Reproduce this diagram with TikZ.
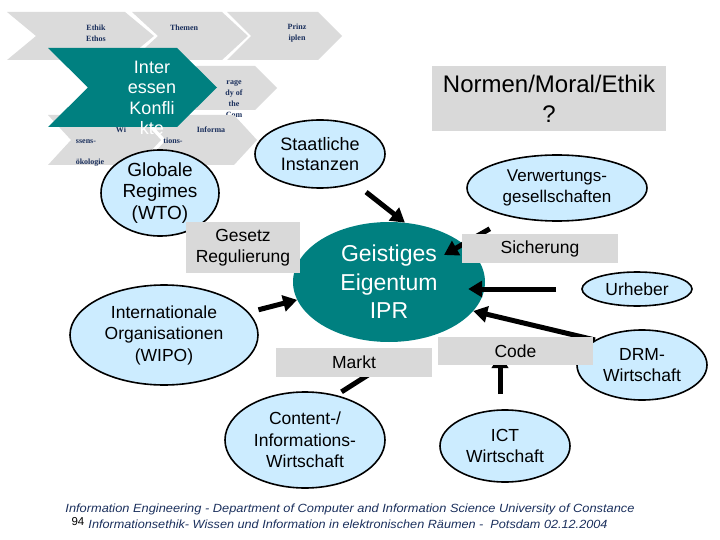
\documentclass[tikz,border=0pt]{standalone}
\usepackage{fontspec}
\setmainfont{Liberation Sans}
\newfontfamily\chevfont{Liberation Serif}
\usetikzlibrary{arrows.meta,positioning,shapes.geometric,calc}
\definecolor{slideTeal}{HTML}{008080}
\definecolor{slideGray}{HTML}{D9D9D9}
\definecolor{chevGray}{HTML}{DBDBDB}
\definecolor{bubbleBlue}{HTML}{CCECFF}
\definecolor{inkNavy}{HTML}{1A2F5C}
\pgfdeclarelayer{labels}
\pgfsetlayers{main,labels}
\tikzset{
  chevLabel/.style={
    font=\chevfont\bfseries\fontsize{8}{11}\selectfont,
    text=inkNavy,
    align=center,
    inner sep=0pt
  },
  slideBubble/.style={
    ellipse,
    draw=black,
    line width=1.6pt,
    fill=bubbleBlue,
    align=center,
    inner sep=0pt,
    font=\fontsize{17.5}{21.5}\selectfont
  },
  slideBox/.style={
    fill=slideGray,
    align=center,
    inner sep=0pt,
    font=\fontsize{17.5}{21.5}\selectfont
  },
  slideArrow/.style={-{Triangle[length=14pt,width=16pt]}, line width=5pt, draw=black},
  slideBar/.style={line width=5pt, draw=black},
  footLine/.style={
    font=\itshape\fontsize{11}{13}\selectfont,
    text=inkNavy,
    inner sep=0pt
  }
}

\begin{document}
\begin{tikzpicture}[x=1pt, y=-1pt]
  \useasboundingbox (0,0) rectangle (720,540);

  % chevron band, top row and the one behind the teal
  \foreach \xl/\yt/\w/\h/\d in {7/12/118/48/29,132/12/90/48/26,227/12/91/48/24,140/66/115/44/22}
    \fill[fill=chevGray] (\xl,\yt) -- ++(\w,0) -- ++(\d,\h/2) -- ++(-\d,\h/2)
      -- ++(-\w,0) -- ++(\d,-\h/2) -- cycle;
  \node[chevLabel] (ethik) at (96,33) {Ethik\\Ethos};
  \node[chevLabel] (themen) at (184,28) {Themen};
  \node[chevLabel] (prinz) at (297,33) {Prinz\\iplen};
  \node[chevLabel] (tragedy) at (234,99) {rage\\dy of\\the\\Com};

  % lower row
  \foreach \xl/\yt/\w/\h/\d in {48/115/90/50/23,143/115/91/50/23}
    \fill[fill=chevGray] (\xl,\yt) -- ++(\w,0) -- ++(\d,\h/2) -- ++(-\d,\h/2)
      -- ++(-\w,0) -- ++(\d,-\h/2) -- cycle;
  \node[chevLabel] (wi) at (121,130) {Wi};
  \node[chevLabel] (ssens) at (86,142) {ssens-};
  \node[chevLabel] (oeko) at (90,163) {ökologie};
  \node[chevLabel] (informa) at (211,130) {Informa};
  \node[chevLabel] (tions) at (173,141) {tions-};

  % teal chevron
  \fill[slideTeal] (48,48) -- ++(129,0) -- ++(40,39.5) -- ++(-40,39.5)
    -- ++(-129,0) -- ++(40,-39.5) -- cycle;
  \node[text=white, align=center, inner sep=0pt, font=\fontsize{18}{20.5}\selectfont]
    (konflikt) at (152,98) {Inter\\essen\\Konfli\\kte};

  % bubbles
  \node[slideBubble, minimum width=118pt, minimum height=86pt, font=\fontsize{19}{21.5}\selectfont]
    (globale) at (160,193) {Globale\\Regimes\\(WTO)};
  \node[slideBubble, minimum width=130pt, minimum height=68pt, font=\fontsize{18}{20}\selectfont]
    (staat) at (320,154) {Staatliche\\Instanzen};
  \node[slideBubble, minimum width=180pt, minimum height=66pt, font=\fontsize{17}{20.5}\selectfont]
    (verw) at (557,188) {Verwertungs-\\gesellschaften};
  \node[slideBubble, minimum width=188pt, minimum height=100pt]
    (intl) at (164,335) {Internationale\\Organisationen\\(WIPO)};
  \node[slideBubble, minimum width=160pt, minimum height=96pt]
    (content) at (305,440) {Content-/\\Informations-\\Wirtschaft};
  \node[slideBubble, minimum width=110pt, minimum height=34pt]
    (urheber) at (637,289) {Urheber};
  \node[slideBubble, minimum width=130pt, minimum height=70pt]
    (drm) at (642,365) {DRM-\\Wirtschaft};
  \node[slideBubble, minimum width=130pt, minimum height=72pt]
    (ict) at (505,446) {ICT\\Wirtschaft};
  \node[ellipse, fill=slideTeal, text=white, align=center, inner sep=0pt,
    minimum width=192pt, minimum height=120pt, font=\fontsize{23}{28.5}\selectfont]
    (geist) at (389,282) {Geistiges\\Eigentum\\IPR};

  % grey label boxes, kept above the connectors
  \begin{pgfonlayer}{labels}
    \node[slideBox, minimum width=156pt, minimum height=29pt] (markt) at (354,362.5) {Markt};
    \node[slideBox, minimum width=156pt, minimum height=29pt] (sicherung) at (540,248.5) {Sicherung};
    \node[slideBox, minimum width=155pt, minimum height=28pt] (code) at (515.5,351) {Code};
    \node[slideBox, minimum width=114pt, minimum height=51pt] (gesetz) at (243,247.5) {Gesetz\\Regulierung};
    \node[slideBox, minimum width=234pt, minimum height=65pt, font=\fontsize{24}{30}\selectfont]
      (normen) at (549,98.5) {Normen/Moral/Ethik\\?};
  \end{pgfonlayer}
  \coordinate (sichTail) at ($(sicherung.north west)+(28,-5)$);
  \coordinate (geistTip) at ($(geist.center)+(55,-27)$);
  \coordinate (marktFoot) at ($(markt.south)+(20,-6)$);
  \coordinate (codeFoot) at ($(ict.north |- code.center)+(-5,3)$);

  \draw[slideArrow, shorten <=14pt] (staat.-40) -- (geist.75);
  \draw[slideArrow, shorten <=10pt] (intl.15) -- (geist.191);
  \draw[slideBar, shorten <=6pt] (content.55) -- (marktFoot);
  \draw[slideArrow] (sichTail) -- (geistTip);
  \draw[slideArrow, shorten <=25pt, shorten >=-17pt] (urheber.west) -- (urheber.west -| geist.east);
  \draw[slideArrow] (drm.152) -- (geist.-19);
  \draw[slideArrow, shorten <=15pt] ([xshift=-5pt]ict.north) -- (codeFoot);

  % footer
  \node[footLine] (footA) at (350,509)
    {\resizebox{569pt}{8.6pt}{Information Engineering - Department of Computer and Information Science University of Constance}};
  \node[footLine] (footB) at (348,524)
    {\resizebox{519pt}{8.6pt}{Informationsethik- Wissen und Information in elektronischen Räumen -\ \ Potsdam 02.12.2004}};
  \node[inner sep=0pt, font=\fontsize{11.5}{13}\selectfont] (pageNo) at (78,522) {94};
\end{tikzpicture}
\end{document}
